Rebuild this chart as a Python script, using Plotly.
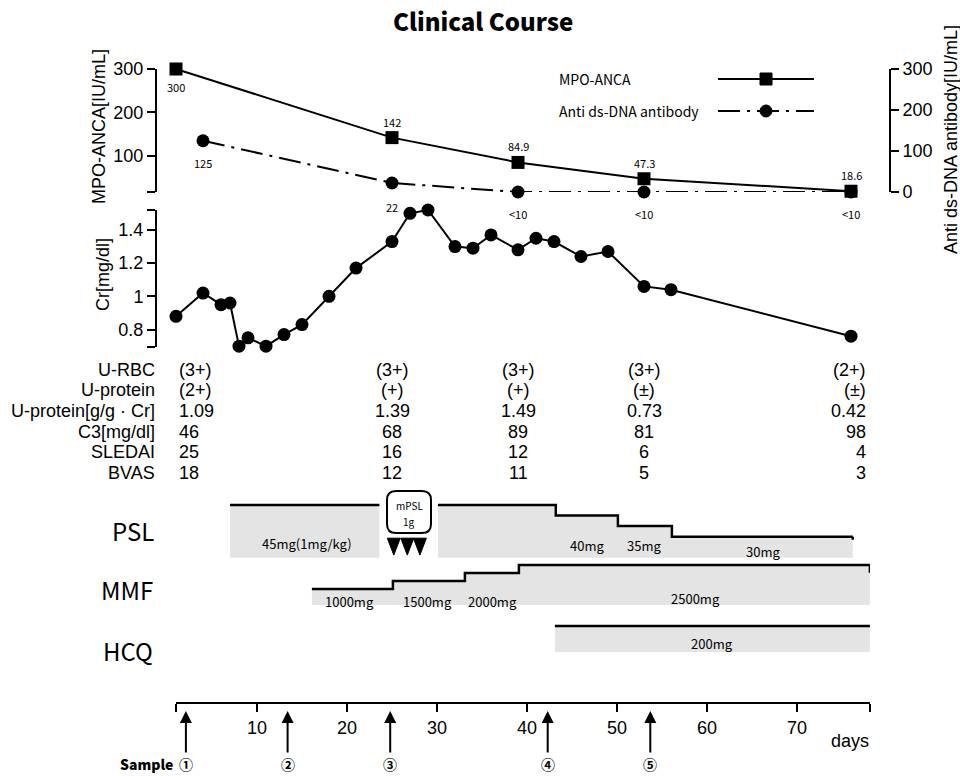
import plotly.graph_objects as go

W, H = 960, 776
def fx(p): return p / W
def fy(p): return 1 - p / H

# ---------------- data ----------------
anca_days = [1, 25, 39, 53, 76]
anca_vals = [300, 142, 84.9, 47.3, 18.6]
anca_labels = ["300", "142", "84.9", "47.3", "18.6"]

dsdna_days = [4, 25, 39, 53, 76]
dsdna_vals = [125, 22, 0, 0, 0]
dsdna_labels = ["125", "22", "<10", "<10", "<10"]

cr_days = [1, 4, 6, 7, 8, 9, 11, 13, 15, 18, 21, 25, 27, 29, 32, 34, 36, 39, 41, 43, 46, 49, 53, 56, 76]
cr_vals = [0.88, 1.02, 0.95, 0.96, 0.70, 0.75, 0.70, 0.77, 0.83, 1.00, 1.17, 1.33, 1.50, 1.52,
           1.30, 1.29, 1.37, 1.28, 1.35, 1.33, 1.24, 1.27, 1.06, 1.04, 0.76]

table_days = [1, 25, 39, 53, 76]
table_rows = ["U-RBC", "U-protein", "U-protein[g/g · Cr]", "C3[mg/dl]", "SLEDAI", "BVAS"]
u_rbc = ["(3+)", "(3+)", "(3+)", "(3+)", "(2+)"]
u_protein = ["(2+)", "(+)", "(+)", "(±)", "(±)"]
u_protein_ratio = ["1.09", "1.39", "1.49", "0.73", "0.42"]
c3 = ["46", "68", "89", "81", "98"]
sledai = ["25", "16", "12", "6", "4"]
bvas = ["18", "12", "11", "5", "3"]
table_values = [u_rbc, u_protein, u_protein_ratio, c3, sledai, bvas]

psl_days_1 = [7, 23.6]
psl_dose_1 = [45, 45]
psl_days_2 = [30.1, 43.2, 50.1, 56.1, 76.2]
psl_dose_2 = [45, 40, 35, 30, 30]
psl_labels = ["45mg(1mg/kg)", "40mg", "35mg", "30mg"]
psl_label_days = [15.6, 46.7, 53.0, 66.2]
mpsl_pulse_days = [25.2, 26.7, 28.1]

mmf_days = [16.1, 25.1, 33.1, 39.1, 78.1]
mmf_dose = [1000, 1500, 2000, 2500, 2500]
mmf_labels = ["1000mg", "1500mg", "2000mg", "2500mg"]
mmf_label_days = [20.3, 28.9, 36.2, 58.7]

hcq_days = [43.1, 78.1]
hcq_dose = [200, 200]
hcq_labels = ["200mg"]
hcq_label_days = [60.6]

sample_days = [2.1, 13.4, 24.8, 42.3, 53.7]
sample_labels = ["①", "②", "③", "④", "⑤"]

x_ticks = [10, 20, 30, 40, 50, 60, 70]

# ---------------- styles ----------------
ARIAL = "Liberation Sans, Arial, sans-serif"
JP = "Noto Sans CJK JP, Noto Sans, sans-serif"
FILL = "#e4e4e4"

fig = go.Figure()

fig.add_trace(go.Scatter(
    x=anca_days, y=anca_vals, xaxis="x", yaxis="y", mode="lines+markers",
    line=dict(color="black", width=2),
    marker=dict(symbol="square", size=13, color="black"), cliponaxis=False))
fig.add_trace(go.Scatter(
    x=dsdna_days, y=dsdna_vals, xaxis="x", yaxis="y2", mode="lines+markers",
    line=dict(color="black", width=2, dash="22px,7px,3px,7px"),
    marker=dict(symbol="circle", size=13, color="black"), cliponaxis=False))
fig.add_trace(go.Scatter(
    x=cr_days, y=cr_vals, xaxis="x", yaxis="y3", mode="lines+markers",
    line=dict(color="black", width=2),
    marker=dict(symbol="circle", size=13, color="black"), cliponaxis=False))

def step(days, doses, yaxis):
    fig.add_trace(go.Scatter(
        x=days, y=doses, xaxis="x2", yaxis=yaxis, mode="lines",
        line=dict(color="black", width=2.5, shape="hv"),
        fill="tozeroy", fillcolor=FILL))

step(psl_days_1, psl_dose_1, "y4")
step(psl_days_2, psl_dose_2, "y4")
step(mmf_days, mmf_dose, "y5")
step(hcq_days, hcq_dose, "y6")

axis_common = dict(showgrid=False, zeroline=False, showline=True, linecolor="black",
                   linewidth=2, ticks="outside", ticklen=8, tickwidth=2, tickcolor="black",
                   automargin=False,
                   tickfont=dict(family=ARIAL, size=18, color="black"))

fig.update_layout(
    width=W, height=H, margin=dict(l=0, r=0, t=0, b=0, pad=0, autoexpand=False),
    plot_bgcolor="white", paper_bgcolor="white", showlegend=False,
    xaxis=dict(domain=[fx(157), fx(889)], range=[-1.111, 80.222], visible=False, anchor="y3"),
    yaxis=dict(domain=[fy(192), fy(69)], range=[16.8, 300], anchor="x", side="left",
               tickvals=[17, 100, 200, 300], ticktext=["", "100", "200", "300"], **axis_common),
    yaxis2=dict(overlaying="y", range=[0, 300], anchor="x", side="right",
                tickvals=[0, 100, 200, 300], **axis_common),
    yaxis3=dict(domain=[fy(347), fy(210)], range=[0.695, 1.52], anchor="x",
                tickvals=[0.696, 0.8, 1, 1.2, 1.4, 1.519], ticktext=["", "0.8", "1", "1.2", "1.4", ""],
                **axis_common),
    xaxis2=dict(domain=[fx(176), fx(870)], range=[1, 78.111], anchor="free", position=fy(703),
                tickvals=[1.001] + x_ticks + [78.11], ticktext=[""] + [str(t) for t in x_ticks] + [""],
                **axis_common),
    yaxis4=dict(domain=[fy(557.7), fy(491)], range=[20.06, 51.6], anchor="x2", visible=False),
    yaxis5=dict(domain=[fy(606), fy(560)], range=[-60, 2812], anchor="x2", visible=False),
    yaxis6=dict(domain=[fy(652), fy(620)], range=[0, 246], anchor="x2", visible=False),
)

ann = []
def A(text, x, y, size=18, family=ARIAL, xanchor="center", xref="paper", yref="paper", weight=None, **kw):
    f = dict(family=family, size=size, color="black")
    if weight is not None:
        f["weight"] = weight
    ann.append(dict(text=text, x=x, y=y, xref=xref, yref=yref, showarrow=False,
                    xanchor=xanchor, yanchor="middle", font=f, **kw))

# title
A("Clinical Course", fx(483), fy(20), size=24, family=JP, weight=900)

# axis titles
A("MPO-ANCA[IU/mL]", fx(99), fy(127), textangle=-90)
A("Cr[mg/dl]", fx(103), fy(275), textangle=-90)
A("Anti ds-DNA antibody[IU/mL]", fx(951), fy(140), textangle=-90)

# data labels
anca_shift = [-18, 16, 16, 16, 16]
for d, v, t, s in zip(anca_days, anca_vals, anca_labels, anca_shift):
    A(t, d, v, size=11, family=JP, xref="x", yref="y", yshift=s)
dsdna_shift = [-22, -24, -22, -22, -22]
for d, v, t, s in zip(dsdna_days, dsdna_vals, dsdna_labels, dsdna_shift):
    A(t, d, v, size=11, family=JP, xref="x", yref="y2", yshift=s)

# legend
A("MPO-ANCA", fx(557), fy(79), size=14, family=JP, xanchor="left")
A("Anti ds-DNA antibody", fx(557), fy(111), size=14, family=JP, xanchor="left")
shapes = []
shapes.append(dict(type="line", xref="paper", yref="paper", x0=fx(718), x1=fx(814), y0=fy(79), y1=fy(79),
                   line=dict(color="black", width=2)))
shapes.append(dict(type="rect", xref="paper", yref="paper", x0=fx(760), x1=fx(772), y0=fy(85), y1=fy(73),
                   line=dict(color="black", width=1), fillcolor="black"))
shapes.append(dict(type="line", xref="paper", yref="paper", x0=fx(718), x1=fx(814), y0=fy(111), y1=fy(111),
                   line=dict(color="black", width=2, dash="22px,7px,3px,7px")))
shapes.append(dict(type="circle", xref="paper", yref="paper", x0=fx(760), x1=fx(772), y0=fy(117), y1=fy(105),
                   line=dict(color="black", width=1), fillcolor="black"))

# table
row_y = [370, 390, 411, 432, 452, 473]
for r, (name, vals) in enumerate(zip(table_rows, table_values)):
    A(name, fx(157), fy(row_y[r]), xanchor="right")
    for c, (d, v) in enumerate(zip(table_days, vals)):
        if c == 0:
            A(v, d, fy(row_y[r]), xref="x2", xanchor="left", xshift=1)
        elif c == len(table_days) - 1:
            A(v, d, fy(row_y[r]), xref="x2", xanchor="right", xshift=17)
        else:
            A(v, d, fy(row_y[r]), xref="x2")

# treatment names
A("PSL", fx(133), fy(530), size=24, family=JP)
A("MMF", fx(127), fy(589), size=24, family=JP)
A("HCQ", fx(128), fy(650), size=24, family=JP)

psl_label_y = [543, 545, 545, 551]
for t, d, y in zip(psl_labels, psl_label_days, psl_label_y):
    A(t, d, fy(y), size=13, family=JP, xref="x2")
mmf_label_y = [601, 601, 601, 598]
for t, d, y in zip(mmf_labels, mmf_label_days, mmf_label_y):
    A(t, d, fy(y), size=13, family=JP, xref="x2")
for t, d in zip(hcq_labels, hcq_label_days):
    A(t, d, fy(643), size=13, family=JP, xref="x2")

# small end ticks of the dose steps
shapes.append(dict(type="line", xref="x2", yref="y4", x0=psl_days_2[-1], x1=psl_days_2[-1],
                   y0=psl_dose_2[-1], y1=psl_dose_2[-1] - 1.5, line=dict(color="black", width=2.5)))
shapes.append(dict(type="line", xref="x2", yref="y5", x0=mmf_days[-1], x1=mmf_days[-1],
                   y0=mmf_dose[-1], y1=mmf_dose[-1] - 480, line=dict(color="black", width=2.5)))

# mPSL box
x0, x1, y0, y1, r = 387, 431, 491, 533, 9
pts = [("M", x0 + r, y0), ("L", x1 - r, y0), ("Q", x1, y0, x1, y0 + r), ("L", x1, y1 - r),
       ("Q", x1, y1, x1 - r, y1), ("L", x0 + r, y1), ("Q", x0, y1, x0, y1 - r), ("L", x0, y0 + r),
       ("Q", x0, y0, x0 + r, y0)]
path = ""
for p in pts:
    cmd = p[0]
    coords = p[1:]
    s = []
    for i in range(0, len(coords), 2):
        s.append(f"{fx(coords[i]):.5f},{fy(coords[i+1]):.5f}")
    path += cmd + " " + " ".join(s) + " "
path += "Z"
shapes.append(dict(type="path", xref="paper", yref="paper", path=path,
                   line=dict(color="black", width=2), fillcolor="white"))
A("mPSL", fx(409), fy(505), size=10, family=JP)
A("1g", fx(409), fy(521), size=10, family=JP)

# pulse triangles
half_w = 0.72
tri_top, tri_bot = 29.3, 21.3
for d in mpsl_pulse_days:
    shapes.append(dict(type="path", xref="x2", yref="y4",
                       path=f"M {d-half_w},{tri_top} L {d+half_w},{tri_top} L {d},{tri_bot} Z",
                       line=dict(color="black", width=1), fillcolor="black"))

# samples
for d, t in zip(sample_days, sample_labels):
    ann.append(dict(text=t, x=d, y=fy(711), xref="x2", yref="paper", showarrow=True,
                    ax=0, ay=53, arrowhead=2, arrowsize=1.2, arrowwidth=2, arrowcolor="black",
                    font=dict(family=JP, size=14, color="black", weight=700)))
A("Sample", fx(175), fy(764), size=14, family=JP, xanchor="right", weight=900)
A("days", fx(850), fy(741))

fig.update_layout(annotations=ann, shapes=shapes)
fig.write_html("out.html", config={"displayModeBar": False},
               post_script="document.body.style.margin='0';document.body.style.overflow='hidden';")
